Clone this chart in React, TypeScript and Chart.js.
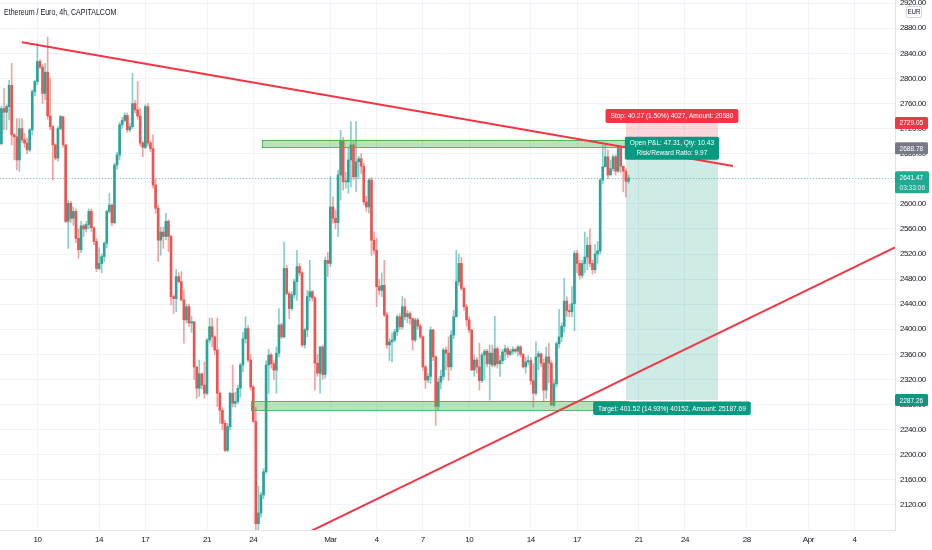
import React, { useEffect, useRef } from "react";
import { Chart, registerables } from "chart.js";

Chart.register(...registerables);

// ---------- data ----------
// x values are days counted from Feb 10, 00:00 (4h candles)
const firstCandleDay = -14 / 6; // Feb 7, 16:00
const candleStepDays = 1 / 6;
const firstOpen = 2696;

const closes = [
  2752, 2746, 2755, 2789, 2710, 2707, 2670, 2720, 2702, 2697, 2686, 2718, 2779, 2795, 2827, 2818, 2776, 2810, 2740, 2723,
  2694, 2673, 2720, 2739, 2694, 2572, 2601, 2577, 2588, 2545, 2527, 2565, 2560, 2567, 2588, 2562, 2540, 2497, 2505, 2516,
  2537, 2588, 2598, 2570, 2662, 2678, 2726, 2733, 2741, 2718, 2723, 2760, 2750, 2740, 2697, 2690, 2755, 2697, 2688, 2630,
  2593, 2542, 2555, 2548, 2572, 2548, 2452, 2449, 2484, 2476, 2447, 2415, 2436, 2410, 2412, 2340, 2306, 2329, 2311, 2298,
  2383, 2404, 2388, 2367, 2298, 2271, 2250, 2207, 2245, 2298, 2282, 2285, 2306, 2343, 2385, 2401, 2351, 2308, 2253, 2090,
  2107, 2136, 2173, 2343, 2359, 2345, 2335, 2362, 2407, 2388, 2497, 2457, 2433, 2455, 2476, 2500, 2490, 2375, 2399, 2452,
  2460, 2450, 2346, 2330, 2372, 2328, 2510, 2505, 2595, 2577, 2570, 2646, 2701, 2635, 2635, 2670, 2694, 2643, 2667, 2672,
  2660, 2603, 2595, 2638, 2542, 2526, 2468, 2462, 2470, 2423, 2375, 2380, 2383, 2396, 2420, 2404, 2436, 2420, 2425, 2417,
  2383, 2415, 2405, 2388, 2340, 2319, 2325, 2399, 2356, 2277, 2316, 2325, 2367, 2362, 2340, 2391, 2420, 2476, 2505, 2465,
  2436, 2415, 2399, 2335, 2351, 2340, 2318, 2359, 2365, 2345, 2362, 2343, 2369, 2345, 2350, 2364, 2369, 2360, 2365, 2368,
  2365, 2372, 2360, 2340, 2348, 2350, 2318, 2298, 2356, 2361, 2346, 2303, 2356, 2346, 2279, 2313, 2377, 2388, 2405, 2445,
  2430, 2428, 2441, 2521, 2505, 2486, 2505, 2515, 2534, 2505, 2495, 2520, 2525, 2638, 2659, 2675, 2646, 2656, 2675, 2652,
  2691, 2660, 2652, 2636, 2641.47,
];

const highs = [
  2756, 2784, 2758, 2797, 2824, 2712, 2736, 2736, 2736, 2712, 2705, 2720, 2782, 2797, 2856, 2830, 2822, 2824, 2866, 2800,
  2725, 2696, 2723, 2741, 2739, 2694, 2606, 2604, 2595, 2592, 2560, 2572, 2568, 2572, 2592, 2592, 2563, 2545, 2530, 2520,
  2540, 2590, 2617, 2600, 2665, 2682, 2730, 2738, 2745, 2745, 2728, 2808, 2765, 2795, 2752, 2700, 2758, 2760, 2700, 2710,
  2640, 2598, 2563, 2563, 2585, 2575, 2550, 2455, 2495, 2490, 2492, 2462, 2440, 2440, 2421, 2412, 2340, 2351, 2330, 2348,
  2385, 2418, 2418, 2390, 2418, 2300, 2275, 2255, 2250, 2300, 2343, 2300, 2311, 2346, 2395, 2420, 2406, 2360, 2311, 2276,
  2150, 2140, 2178, 2350, 2368, 2362, 2350, 2372, 2433, 2410, 2539, 2502, 2460, 2460, 2480, 2526, 2505, 2492, 2402, 2462,
  2510, 2462, 2452, 2360, 2372, 2375, 2515, 2523, 2643, 2611, 2590, 2654, 2717, 2706, 2650, 2690, 2731, 2700, 2731, 2676,
  2680, 2665, 2612, 2640, 2642, 2555, 2545, 2480, 2490, 2510, 2427, 2385, 2394, 2400, 2423, 2425, 2452, 2449, 2430, 2428,
  2418, 2418, 2418, 2408, 2390, 2343, 2330, 2404, 2400, 2358, 2322, 2335, 2370, 2372, 2388, 2398, 2430, 2526, 2520, 2515,
  2468, 2440, 2420, 2400, 2360, 2355, 2378, 2362, 2368, 2368, 2375, 2375, 2421, 2372, 2358, 2368, 2375, 2372, 2368, 2372,
  2370, 2374, 2374, 2362, 2355, 2358, 2355, 2345, 2380, 2365, 2362, 2353, 2372, 2378, 2350, 2320, 2380, 2432, 2410, 2481,
  2452, 2440, 2468, 2525, 2526, 2510, 2510, 2555, 2547, 2560, 2510, 2535, 2540, 2640, 2694, 2694, 2686, 2670, 2678, 2678,
  2693, 2688, 2655, 2656, 2646,
];

const lows = [
  2694, 2718, 2718, 2734, 2694, 2670, 2654, 2652, 2697, 2690, 2680, 2683, 2710, 2772, 2790, 2815, 2760, 2766, 2735, 2718,
  2638, 2670, 2668, 2718, 2690, 2570, 2529, 2570, 2566, 2538, 2513, 2522, 2548, 2555, 2560, 2556, 2535, 2492, 2495, 2490,
  2508, 2530, 2585, 2565, 2568, 2655, 2670, 2720, 2730, 2714, 2715, 2720, 2745, 2735, 2692, 2675, 2688, 2692, 2683, 2625,
  2585, 2508, 2518, 2529, 2543, 2524, 2439, 2425, 2428, 2474, 2445, 2378, 2410, 2404, 2395, 2320, 2290, 2293, 2305, 2290,
  2295, 2378, 2372, 2360, 2277, 2250, 2240, 2205, 2205, 2240, 2276, 2276, 2282, 2292, 2332, 2378, 2348, 2303, 2252, 2050,
  2075, 2100, 2130, 2170, 2298, 2338, 2320, 2298, 2356, 2385, 2386, 2455, 2417, 2430, 2450, 2446, 2485, 2372, 2370, 2388,
  2445, 2445, 2303, 2325, 2298, 2320, 2322, 2484, 2500, 2569, 2560, 2548, 2606, 2622, 2625, 2617, 2627, 2638, 2620, 2640,
  2648, 2598, 2588, 2585, 2518, 2520, 2436, 2455, 2452, 2420, 2370, 2350, 2348, 2380, 2390, 2400, 2400, 2415, 2410, 2408,
  2367, 2380, 2400, 2385, 2335, 2306, 2315, 2314, 2350, 2247, 2270, 2305, 2320, 2335, 2318, 2335, 2385, 2465, 2470, 2462,
  2430, 2405, 2395, 2334, 2325, 2330, 2303, 2315, 2320, 2340, 2287, 2340, 2340, 2338, 2325, 2345, 2351, 2355, 2358, 2360,
  2362, 2357, 2356, 2338, 2330, 2343, 2312, 2276, 2295, 2335, 2340, 2285, 2290, 2315, 2279, 2277, 2308, 2370, 2380, 2395,
  2420, 2420, 2420, 2398, 2490, 2480, 2482, 2490, 2495, 2500, 2488, 2490, 2505, 2520, 2632, 2660, 2640, 2648, 2653, 2646,
  2650, 2650, 2619, 2611, 2633,
];

const xTickDays = [0, 4, 7, 11, 14, 19, 22, 25, 28, 32, 35, 39, 42, 46, 50, 53];
const xTickLabels = ["10", "14", "17", "21", "24", "Mar", "4", "7", "10", "14", "17", "21", "24", "28", "Apr", "4"];
const yTickValues = [
  2120, 2160, 2200, 2240, 2280, 2320, 2360, 2400, 2440, 2480, 2520, 2560, 2600, 2640, 2680, 2720, 2760, 2800, 2840,
  2880, 2920,
];

// drawings (day, price)
const resistanceLine = [
  { x: -1.0, y: 2857.8 },
  { x: 45.11, y: 2660.2 },
];
const supportLine = [
  { x: 17.03, y: 2069.8 },
  { x: 55.62, y: 2530.7 },
];
const upperZone = { fromDay: 14.57, toDay: 38.3, low: 2690.4, high: 2701.5 };
const lowerZone = { fromDay: 13.85, toDay: 38.3, low: 2271.3, high: 2285.7 };

const positionFromDay = 38.17;
const positionToDay = 44.14;
const entryPrice = 2688.78;
const stopPrice = 2729.05;
const targetPrice = 2287.26;
const lastPrice = 2641.47;
const countdownText = "03:33:06";
const stopText = "Stop: 40.27 (1.50%) 4027, Amount: 20580";
const pnlLines = ["Open P&L: 47.31, Qty: 10.43", "Risk/Reward Ratio: 9.97"];
const targetText = "Target: 401.52 (14.93%) 40152, Amount: 25187.69";
const titleText = "Ethereum / Euro, 4h, CAPITALCOM";
const currencyText = "EUR";

// ---------- styles ----------
const UP = "#26a69a";
const DOWN = "#ef5350";
const UP_WICK = "rgba(38,166,154,0.55)";
const DOWN_WICK = "rgba(239,83,80,0.55)";
const RED = "#f23645";
const TEAL = "#089981";
const GRID = "#f0f3fa";
const TEXT = "#131722";
const FONT = "'Liberation Sans',Arial,sans-serif";
const TEXT_FONT = "'Liberation Sans',Arial,sans-serif";

type Candle = { x: number; o: number; h: number; l: number; c: number };

function buildCandles(): Candle[] {
  const out: Candle[] = [];
  let prev = firstOpen;
  for (let i = 0; i < closes.length; i++) {
    const o = prev;
    const c = closes[i];
    const h = Math.max(highs[i], o, c);
    const l = Math.min(lows[i], o, c);
    out.push({ x: firstCandleDay + i * candleStepDays, o, h, l, c });
    prev = c;
  }
  return out;
}

function condensedText(
  ctx: CanvasRenderingContext2D,
  text: string,
  x: number,
  y: number,
  align: "left" | "center",
  size: number,
  color: string,
  squeeze = 0.82
) {
  ctx.save();
  (ctx as any).letterSpacing = "0px";
  ctx.font = `${size}px ${TEXT_FONT}`;
  ctx.fillStyle = color;
  ctx.textBaseline = "middle";
  ctx.textAlign = "left";
  const w = ctx.measureText(text).width * squeeze;
  const sx = align === "center" ? x - w / 2 : x;
  ctx.translate(sx, y);
  ctx.scale(squeeze, 1);
  ctx.fillText(text, 0, 0);
  ctx.restore();
  return w;
}

function textWidth(ctx: CanvasRenderingContext2D, text: string, size: number, squeeze = 0.82) {
  ctx.save();
  (ctx as any).letterSpacing = "0px";
  ctx.font = `${size}px ${TEXT_FONT}`;
  const w = ctx.measureText(text).width * squeeze;
  ctx.restore();
  return w;
}

function box(ctx: CanvasRenderingContext2D, x: number, y: number, w: number, h: number, fill: string, r = 2) {
  ctx.save();
  ctx.fillStyle = fill;
  ctx.beginPath();
  if ((ctx as any).roundRect) (ctx as any).roundRect(x, y, w, h, r);
  else ctx.rect(x, y, w, h);
  ctx.fill();
  ctx.restore();
}

const overlayPlugin = {
  id: "overlay",
  beforeDraw(chart: any) {
    // tighter tracking for the axis labels (narrow TradingView-like look)
    (chart.ctx as any).letterSpacing = "-0.45px";
  },
  beforeDatasetsDraw(chart: any) {
    const { ctx, chartArea: a, scales } = chart;
    const xs = scales.x;
    const ys = scales.y;
    ctx.save();
    ctx.beginPath();
    ctx.rect(a.left, a.top, a.right - a.left, a.bottom - a.top);
    ctx.clip();
    const x0 = xs.getPixelForValue(positionFromDay);
    const x1 = xs.getPixelForValue(positionToDay);
    const yE = ys.getPixelForValue(entryPrice);
    const yS = ys.getPixelForValue(stopPrice);
    const yT = ys.getPixelForValue(targetPrice);
    ctx.fillStyle = "rgba(242,54,69,0.2)";
    ctx.fillRect(x0, yS, x1 - x0, yE - yS);
    ctx.fillStyle = "rgba(8,153,129,0.2)";
    ctx.fillRect(x0, yE, x1 - x0, yT - yE);
    const yL = Math.round(ys.getPixelForValue(lastPrice)) + 0.5;
    ctx.strokeStyle = "rgba(38,166,154,0.55)";
    ctx.lineWidth = 1;
    ctx.setLineDash([1, 2]);
    ctx.beginPath();
    ctx.moveTo(a.left, yL);
    ctx.lineTo(a.right, yL);
    ctx.stroke();
    ctx.restore();
  },
  afterDatasetDraw(chart: any, args: any) {
    if (args.index !== 1) return;
    const { ctx, chartArea: a, scales } = chart;
    const xs = scales.x;
    const ys = scales.y;
    ctx.save();
    ctx.beginPath();
    ctx.rect(a.left, a.top, a.right - a.left, a.bottom - a.top);
    ctx.clip();
    for (const z of [upperZone, lowerZone]) {
      const x0 = xs.getPixelForValue(z.fromDay);
      const x1 = xs.getPixelForValue(z.toDay);
      const y0 = ys.getPixelForValue(z.high);
      const y1 = ys.getPixelForValue(z.low);
      ctx.fillStyle = "rgba(76,175,80,0.38)";
      ctx.fillRect(x0, y0, x1 - x0, y1 - y0);
      ctx.strokeStyle = "rgba(76,175,80,0.9)";
      ctx.lineWidth = 1;
      ctx.strokeRect(Math.round(x0) + 0.5, Math.round(y0) + 0.5, Math.round(x1 - x0), Math.round(y1 - y0));
    }
    ctx.restore();
  },
  afterDraw(chart: any) {
    const { ctx, chartArea: a, scales } = chart;
    (ctx as any).letterSpacing = "0px";
    const xs = scales.x;
    const ys = scales.y;
    const cx = (xs.getPixelForValue(positionFromDay) + xs.getPixelForValue(positionToDay)) / 2;
    const yE = ys.getPixelForValue(entryPrice);
    const yS = ys.getPixelForValue(stopPrice);
    const yT = ys.getPixelForValue(targetPrice);
    const yL = ys.getPixelForValue(lastPrice);
    const fs = 8;

    // stop label (above stop line)
    let w = textWidth(ctx, stopText, fs) + 10;
    box(ctx, cx - w / 2, yS - 14, w, 14, RED);
    condensedText(ctx, stopText, cx, yS - 7, "center", fs, "#fff");

    // open P&L label (centred on entry)
    w = Math.max(...pnlLines.map((t) => textWidth(ctx, t, fs))) + 10;
    box(ctx, cx - w / 2, yE - 11.5, w, 23, TEAL);
    condensedText(ctx, pnlLines[0], cx, yE - 5, "center", fs, "#fff");
    condensedText(ctx, pnlLines[1], cx, yE + 5, "center", fs, "#fff");

    // target label (below target line)
    w = textWidth(ctx, targetText, fs) + 10;
    box(ctx, cx - w / 2, yT + 1.5, w, 13.5, TEAL);
    condensedText(ctx, targetText, cx, yT + 8.3, "center", fs, "#fff");

    // price-axis badges
    const bx = a.right;
    const bw = 33;
    const badge = (yc: number, text: string, fill: string) => {
      box(ctx, bx, yc - 6, bw, 12, fill, 1.5);
      condensedText(ctx, text, bx + 4.5, yc + 0.3, "left", fs, "#fff");
    };
    badge(yS, stopPrice.toFixed(2), RED);
    badge(yE, entryPrice.toFixed(2), "#787b86");
    badge(yT, targetPrice.toFixed(2), TEAL);
    box(ctx, bx, yL - 6.5, bw + 1, 22, "#22ab94", 1.5);
    condensedText(ctx, lastPrice.toFixed(2), bx + 4.5, yL, "left", fs, "#fff");
    condensedText(ctx, countdownText, bx + 4.5, yL + 10, "left", fs, "rgba(255,255,255,0.85)");

    // currency tag
    ctx.save();
    ctx.fillStyle = "#fff";
    ctx.strokeStyle = "#d1d4dc";
    ctx.lineWidth = 1;
    ctx.beginPath();
    if ((ctx as any).roundRect) (ctx as any).roundRect(906.5, 6.5, 15, 11, 2);
    else ctx.rect(906.5, 6.5, 15, 11);
    ctx.fill();
    ctx.stroke();
    ctx.restore();
    condensedText(ctx, currencyText, 914, 12.3, "center", 7.5, TEXT);

    // title
    condensedText(ctx, titleText, 4, 12.5, "left", 8.6, "#131722");
  },
};

export default function App() {
  const ref = useRef<HTMLCanvasElement>(null);
  useEffect(() => {
    document.body.style.margin = "0";
    const candles = buildCandles();
    const wickColors = candles.map((k) => (k.c >= k.o ? UP_WICK : DOWN_WICK));
    const bodyColors = candles.map((k) => (k.c >= k.o ? UP : DOWN));
    const chart = new Chart(ref.current as HTMLCanvasElement, {
      type: "bar",
      data: {
        datasets: [
          {
            type: "bar",
            data: candles.map((k) => ({ x: k.x, y: [k.l, k.h] })) as any,
            backgroundColor: wickColors,
            borderWidth: 0,
            barThickness: 1,
            grouped: false,
            order: 3,
          } as any,
          {
            type: "bar",
            data: candles.map((k) => ({ x: k.x, y: [k.o, k.c] })) as any,
            backgroundColor: bodyColors,
            borderWidth: 0,
            barThickness: 2,
            minBarLength: 1,
            grouped: false,
            order: 2,
          } as any,
          {
            type: "line",
            data: resistanceLine as any,
            borderColor: RED,
            borderWidth: 2,
            pointRadius: 0,
            fill: false,
            order: 1,
          } as any,
          {
            type: "line",
            data: supportLine as any,
            borderColor: RED,
            borderWidth: 2,
            pointRadius: 0,
            fill: false,
            order: 1,
          } as any,
        ],
      },
      options: {
        responsive: false,
        animation: false,
        events: [],
        layout: { padding: 0 },
        plugins: { legend: { display: false }, tooltip: { enabled: false }, title: { display: false } },
        scales: {
          x: {
            type: "linear",
            min: -2.425,
            max: 55.62,
            offset: false,
            afterBuildTicks: (s: any) => {
              s.ticks = xTickDays.map((v) => ({ value: v }));
            },
            afterFit: (s: any) => {
              s.height = 20;
              s.paddingLeft = 0;
              s.paddingRight = 0;
            },
            ticks: {
              autoSkip: false,
              maxRotation: 0,
              padding: 5,
              color: TEXT,
              font: { family: FONT, size: 8 },
              callback: (_v: any, i: number) => xTickLabels[i],
            },
            grid: { color: GRID, drawTicks: false, offset: false },
            border: { color: "#e0e3eb" },
          } as any,
          y: {
            type: "linear",
            position: "right",
            min: 2080,
            max: 2925,
            afterBuildTicks: (s: any) => {
              s.ticks = yTickValues.map((v) => ({ value: v }));
            },
            afterFit: (s: any) => {
              s.width = 37;
              s.paddingTop = 0;
              s.paddingBottom = 0;
            },
            ticks: {
              padding: 5,
              color: TEXT,
              font: { family: FONT, size: 8 },
              callback: (v: any) => Number(v).toFixed(2),
            },
            grid: { color: GRID, drawTicks: false },
            border: { color: "#e0e3eb" },
          } as any,
        },
      },
      plugins: [overlayPlugin as any],
    });
    return () => chart.destroy();
  }, []);
  return (
    <div style={{ width: 932, height: 550, background: "#fff" }}>
      <canvas ref={ref} width={932} height={550} />
    </div>
  );
}
